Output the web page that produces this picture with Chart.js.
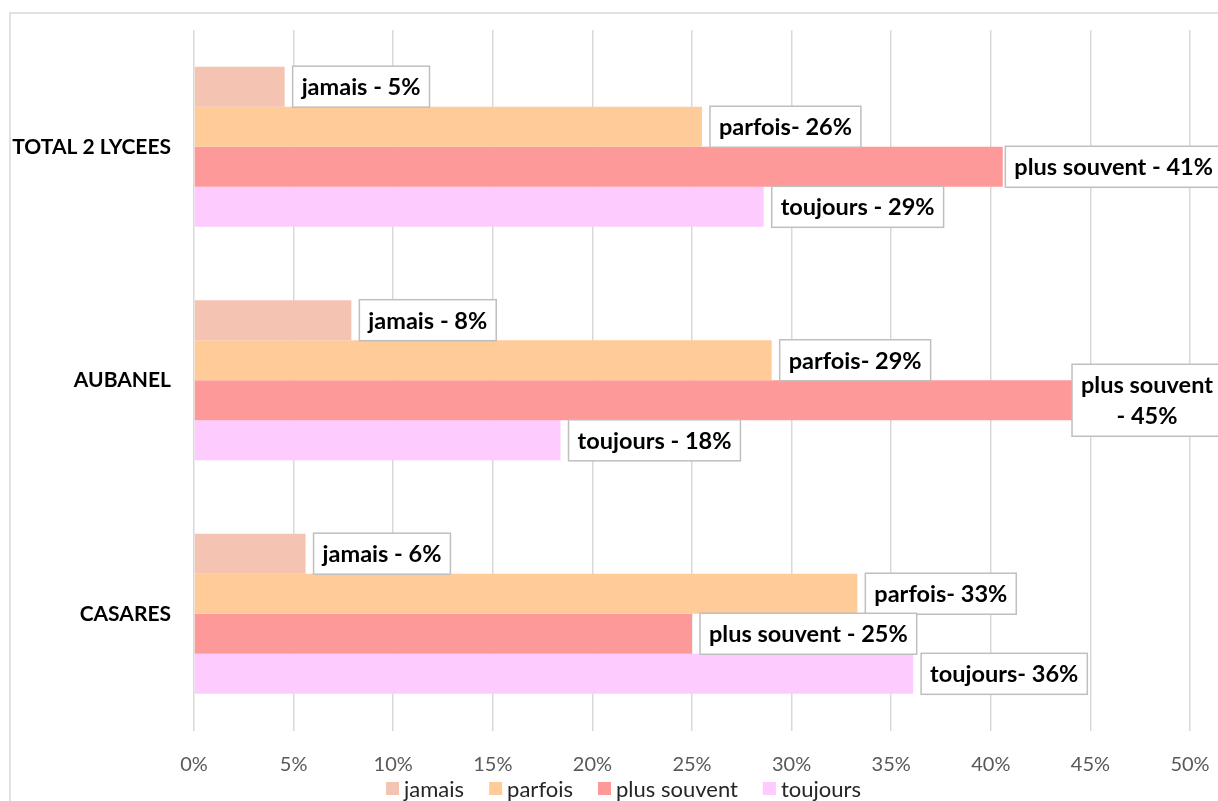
<!DOCTYPE html>
<html>
<head>
<meta charset="utf-8">
<script src="https://cdn.jsdelivr.net/npm/chart.js@4.4.1/dist/chart.umd.min.js"></script>
<style>
html, body { margin: 0; padding: 0; background: #fff; overflow: hidden; }
#wrap { width: 1218px; height: 801px; }
</style>
</head>
<body>
<div id="wrap"><canvas id="myChart" width="1218" height="801"></canvas></div>
<script>
// data (percent)
const categories = ['TOTAL 2 LYCEES', 'AUBANEL', 'CASARES'];
const seriesNames = ['jamais', 'parfois', 'plus souvent', 'toujours'];
const jamais = [4.55, 7.9, 5.6];
const parfois = [25.5, 29.0, 33.3];
const plusSouvent = [40.6, 44.6, 25.0];
const toujours = [28.6, 18.4, 36.1];
const jamaisLabels = ['jamais - 5%', 'jamais - 8%', 'jamais - 6%'];
const parfoisLabels = ['parfois- 26%', 'parfois- 29%', 'parfois- 33%'];
const plusSouventLabels = ['plus souvent - 41%', 'plus souvent\n- 45%', 'plus souvent - 25%'];
const toujoursLabels = ['toujours - 29%', 'toujours - 18%', 'toujours- 36%'];
const xMax = 50;
const xStep = 5;

const FONT = 'Lato, "Open Sans", sans-serif';
const frame = { left: 10, top: 13, right: 1237 }; // outer chart border (runs off the right edge)

const ctx = document.getElementById('myChart').getContext('2d');

// grey outer border of the chart
const framePlugin = {
    id: 'framePlugin',
    beforeDraw(chart) {
        const c = chart.ctx;
        c.save();
        c.fillStyle = '#ffffff';
        c.fillRect(0, 0, chart.width, chart.height);
        c.strokeStyle = '#d9d9d9';
        c.lineWidth = 1.5;
        c.strokeRect(frame.left, frame.top, 1400, 1000);
        c.restore();
    }
};

// boxed labels at the end of each bar
const boxLabels = {
    id: 'boxLabels',
    afterDatasetsDraw(chart) {
        const c = chart.ctx;
        const lineH = 31, padX = 9, padY = 5, gap = 8;
        const maxRight = chart.width + 4; // keep labels (mostly) on the canvas
        c.save();
        c.font = 'bold 23.5px ' + FONT;
        chart.data.datasets.forEach((ds, i) => {
            const meta = chart.getDatasetMeta(i);
            meta.data.forEach((bar, j) => {
                const lines = ds.boxText[j].split('\n');
                const w = Math.max(...lines.map(l => c.measureText(l).width)) + padX * 2;
                const h = lines.length * lineH + padY * 2;
                const x = Math.min(bar.x + gap, maxRight - w);
                const y = bar.y - h / 2;
                c.fillStyle = '#ffffff';
                c.fillRect(x, y, w, h);
                c.strokeStyle = '#bfbfbf';
                c.lineWidth = 1.5;
                c.strokeRect(x, y, w, h);
                c.fillStyle = '#000000';
                c.textAlign = 'center';
                c.textBaseline = 'middle';
                lines.forEach((l, k) => {
                    c.fillText(l, x + w / 2, y + padY + lineH * k + lineH / 2 + 1);
                });
            });
        });
        c.restore();
    }
};

// legend under the axis, drawn by hand so spacing matches
const legendBelow = {
    id: 'legendBelow',
    afterDraw(chart) {
        const c = chart.ctx;
        const box = 13, textGap = 5, itemGap = 25;
        c.save();
        c.font = '22px ' + FONT;
        const items = chart.data.datasets.map(ds => ({
            text: ds.label,
            color: ds.backgroundColor,
            w: c.measureText(ds.label).width
        }));
        const total = items.reduce((s, it) => s + box + textGap + it.w, 0) + itemGap * (items.length - 1);
        let x = (frame.left + frame.right) / 2 - total / 2;
        const y = chart.chartArea.bottom + 58;
        c.textAlign = 'left';
        c.textBaseline = 'middle';
        items.forEach(it => {
            c.fillStyle = it.color;
            c.fillRect(x, y - box / 2, box, box);
            x += box + textGap;
            c.fillStyle = '#262626';
            c.fillText(it.text, x, y + 1);
            x += it.w + itemGap;
        });
        c.restore();
    }
};

const myChart = new Chart(ctx, {
    type: 'bar',
    data: {
        labels: categories,
        datasets: [
            { label: seriesNames[0], data: jamais, boxText: jamaisLabels, backgroundColor: '#f4c3b2' },
            { label: seriesNames[1], data: parfois, boxText: parfoisLabels, backgroundColor: '#fecb99' },
            { label: seriesNames[2], data: plusSouvent, boxText: plusSouventLabels, backgroundColor: '#fe9999' },
            { label: seriesNames[3], data: toujours, boxText: toujoursLabels, backgroundColor: '#fecbfe' }
        ]
    },
    options: {
        indexAxis: 'y',
        responsive: false,
        animation: false,
        devicePixelRatio: 1,
        categoryPercentage: 0.686,
        barPercentage: 1,
        layout: { padding: { top: 30, right: 28, bottom: 0, left: 0 } },
        plugins: {
            legend: { display: false },
            tooltip: { enabled: false }
        },
        scales: {
            x: {
                min: 0,
                max: xMax,
                border: { display: false },
                // invisible tick marks push the labels down instead of ticks.padding
                grid: { color: '#d9d9d9', lineWidth: 1.5, drawTicks: true, tickLength: 22, tickColor: 'rgba(0,0,0,0)' },
                ticks: {
                    stepSize: xStep,
                    padding: 0,
                    color: '#595959',
                    font: { family: FONT, size: 20 },
                    callback: v => v + '%'
                },
                afterFit(scale) { scale.height = 70.5; }
            },
            y: {
                border: { display: false },
                grid: { color: 'rgba(0,0,0,0)', drawTicks: true, tickLength: 23, tickColor: 'rgba(0,0,0,0)' },
                ticks: {
                    padding: 0,
                    color: '#000000',
                    font: { family: FONT, size: 21, weight: 'bold' }
                },
                afterFit(scale) { scale.width = 194; }
            }
        }
    },
    plugins: [framePlugin, boxLabels, legendBelow]
});
</script>
</body>
</html>
